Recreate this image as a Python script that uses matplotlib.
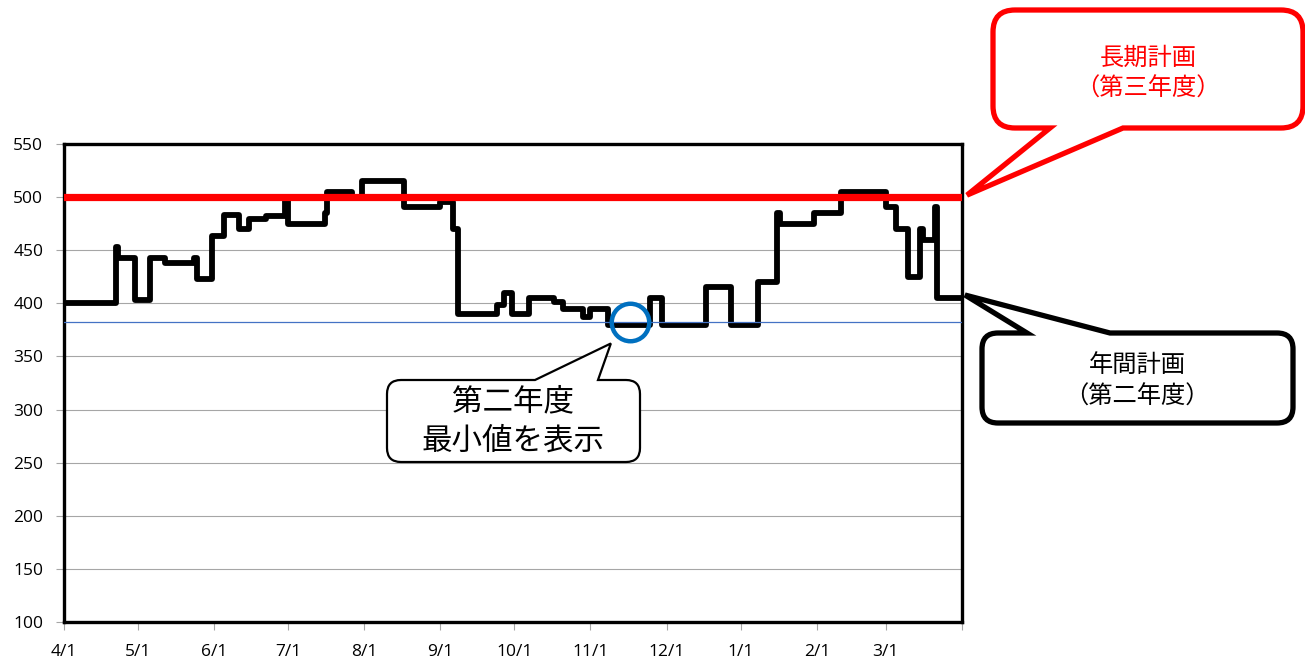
import matplotlib
matplotlib.use("Agg")
import matplotlib.pyplot as plt
from matplotlib.path import Path
from matplotlib.patches import PathPatch
from matplotlib.transforms import Affine2D

W, H = 1305, 663

# step series (day offset from 4/1, value held until next change)
change_days = [0, 21, 22, 29, 35, 41, 53, 54, 60, 65, 71, 75, 82, 90, 91, 106,
               107, 117, 121, 138, 153, 158, 160, 176, 179, 182, 189, 199, 203,
               211, 214, 221, 238, 243, 261, 271, 282, 290, 291, 305, 316, 334,
               338, 343, 348, 349, 354, 355]
values = [400, 453, 443, 403, 443, 438, 443, 423, 463, 483, 470, 479, 482, 496,
          475, 485, 505, 500, 515, 491, 495, 470, 390, 398, 410, 390, 405, 401,
          395, 387, 395, 380, 405, 380, 415, 380, 420, 485, 475, 485, 505, 491,
          470, 425, 470, 460, 491, 405]
year_days = 365

long_plan = 500  # 長期計画（第三年度）

month_days = [0, 30, 61, 91, 122, 153, 183, 214, 245, 275, 306, 334, 365]
month_labels = ["4/1", "5/1", "6/1", "7/1", "8/1", "9/1", "10/1", "11/1",
                "12/1", "1/1", "2/1", "3/1", ""]
y_ticks = [100, 150, 200, 250, 300, 350, 400, 450, 500, 550]

plt.rcParams["font.family"] = ["Open Sans", "Noto Sans CJK JP", "DejaVu Sans"]
JP = ["Noto Sans CJK JP", "DejaVu Sans"]

fig = plt.figure(figsize=(W / 100, H / 100), dpi=100)
ax = fig.add_axes([64 / W, 1 - 622 / H, (962 - 64) / W, (622 - 144) / H])

xs = change_days + [year_days]
ys = values + [values[-1]]
ax.plot(xs, ys, drawstyle="steps-post", color="black", lw=4.2,
        solid_joinstyle="round", solid_capstyle="round", zorder=3)
ax.axhline(long_plan, color="#FF0000", lw=5.2, zorder=4)

min_val = min(values)
ax.axhline(min_val + 2, color="#4472C4", lw=0.9, zorder=5)

# circle on the first minimum segment
i_min = values.index(min_val)
cx = (change_days[i_min] + change_days[i_min + 1]) / 2 + 0.5
ax.plot([cx], [min_val + 2], marker="o", ms=27, mfc="none", mec="#0070C0",
        mew=3.2, zorder=6)

ax.set_xlim(0, year_days)
ax.set_ylim(100, 550)
ax.set_xticks(month_days)
ax.set_xticklabels(month_labels)
ax.set_yticks(y_ticks)
ax.grid(axis="y", color="#A6A6A6", lw=0.8)
ax.set_axisbelow(True)
ax.tick_params(axis="x", length=6, color="#A6A6A6", pad=10, labelsize=12.5)
ax.tick_params(axis="y", length=6, color="#A6A6A6", pad=9, labelsize=12.5)
for s in ax.spines.values():
    s.set_color("black")
    s.set_linewidth(2.4)

pix = Affine2D().scale(1 / W, -1 / H).translate(0, 1) + fig.transFigure


def data_px(x, y):
    dx, dy = ax.transData.transform((x, y))
    return dx, H - dy


def callout(box, r, side, base, tip, ec, lw):
    x0, y0, x1, y1 = box
    b0, b1 = base
    v = [(x0 + r, y0)]
    c = [Path.MOVETO]
    if side == "top":
        v += [(b0, y0), tip, (b1, y0)]
        c += [Path.LINETO] * 3
    v += [(x1 - r, y0), (x1, y0), (x1, y0 + r), (x1, y1 - r), (x1, y1), (x1 - r, y1)]
    c += [Path.LINETO, Path.CURVE3, Path.CURVE3, Path.LINETO, Path.CURVE3, Path.CURVE3]
    if side == "bottom":
        v += [(b1, y1), tip, (b0, y1)]
        c += [Path.LINETO] * 3
    v += [(x0 + r, y1), (x0, y1), (x0, y1 - r), (x0, y0 + r), (x0, y0), (x0 + r, y0)]
    c += [Path.LINETO, Path.CURVE3, Path.CURVE3, Path.LINETO, Path.CURVE3, Path.CURVE3]
    v.append((x0 + r, y0))
    c.append(Path.CLOSEPOLY)
    fig.add_artist(PathPatch(Path(v, c), transform=pix, facecolor="white",
                             edgecolor=ec, lw=lw, joinstyle="miter", zorder=10))


def label(x, y, s, color, size):
    fig.text(x, y, s, transform=pix, ha="center", va="center", color=color,
             fontsize=size, family=JP, zorder=11)


# 長期計画 callout
tx, ty = data_px(year_days, long_plan)
callout((993, 10, 1303, 128), 22, "bottom", (1050, 1123), (tx + 5, ty - 2),
        "#FF0000", 3.8)
label(1148, 58, "長期計画", "#FF0000", 17.5)
label(1148, 89, "（第三年度）", "#FF0000", 17.5)

# 年間計画 callout
tx, ty = data_px(year_days, values[-1])
callout((982, 333, 1293, 423), 16, "top", (1027, 1110), (tx + 3, ty - 3),
        "black", 3.8)
label(1137, 365, "年間計画", "black", 17.5)
label(1137, 397, "（第二年度）", "black", 17.5)

# 最小値 callout
cxp, cyp = data_px(cx, min_val + 2)
callout((387, 380, 640, 462), 14, "top", (535, 598), (cxp - 19, cyp + 21),
        "black", 1.6)
label(513, 402, "第二年度", "black", 22)
label(513, 441, "最小値を表示", "black", 22)

fig.savefig("out.png", dpi=100)
